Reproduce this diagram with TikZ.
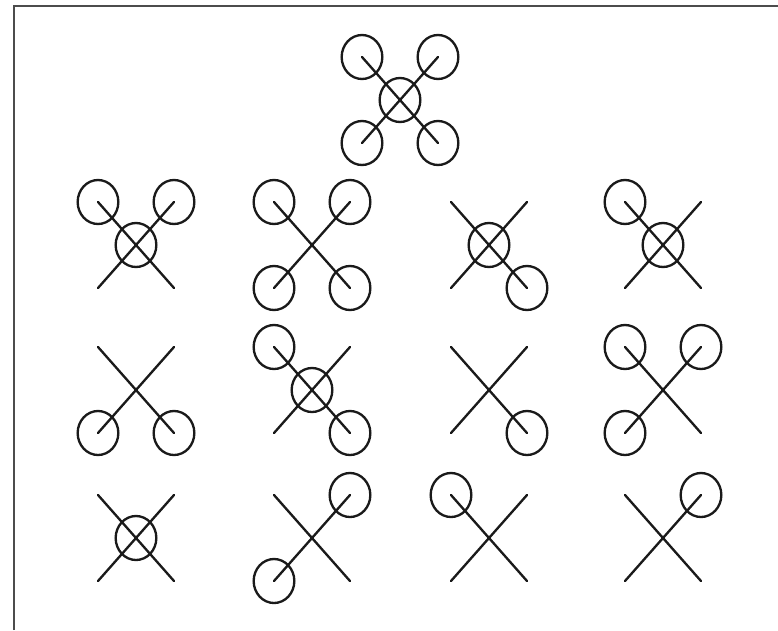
\documentclass[tikz,border=0pt]{standalone}
\usepackage{tikz}
\usetikzlibrary{shapes.geometric}
\definecolor{ink}{HTML}{1A1A1A}

\begin{document}
\begin{tikzpicture}[x=0.03cm,y=-0.03cm,
 prop/.style={ellipse,draw=ink,line width=2pt,inner sep=0pt,
 minimum width=1.22cm,minimum height=1.32cm},
 hub/.style={prop},
 arm/.style={draw=ink,line width=2pt,line cap=round}]
\useasboundingbox (0,0) rectangle (778,630);
% frame
\coordinate (f0) at (14,630);
\coordinate (f1) at (14,6);
\coordinate (f2) at (778,6);
\draw[gray!60!black,line width=1.6pt] (f0) -- (f1) -- (f2);
% hubs and arms
\foreach \n/\x/\y in {1/400/100,
 2/136/245,3/312/245,4/489/245,5/663/245,
 6/136/390,7/312/390,8/489/390,9/663/390,
 10/136/538,11/312/538,12/489/538,13/663/538}{
 \coordinate (h\n) at (\x,\y);
 \coordinate (h\n-tl) at (\x-38,\y-43);
 \coordinate (h\n-tr) at (\x+38,\y-43);
 \coordinate (h\n-bl) at (\x-38,\y+43);
 \coordinate (h\n-br) at (\x+38,\y+43);
 \draw[arm] (h\n-tl) -- (h\n-br);
 \draw[arm] (h\n-tr) -- (h\n-bl);
}
\foreach \n in {1,2,4,5,7,10}{\node[hub] (c\n) at (h\n) {};}
% rotors
\foreach \p in {h1-tl,h1-tr,h1-bl,h1-br,h2-tl,h2-tr,
 h3-tl,h3-tr,h3-bl,h3-br,h4-br,h5-tl,h6-bl,h6-br,
 h7-tl,h7-br,h8-br,h9-tl,h9-tr,h9-bl,h11-tr,h11-bl,
 h12-tl,h13-tr}{\node[prop] (r-\p) at (\p) {};}
\end{tikzpicture}
\end{document}
